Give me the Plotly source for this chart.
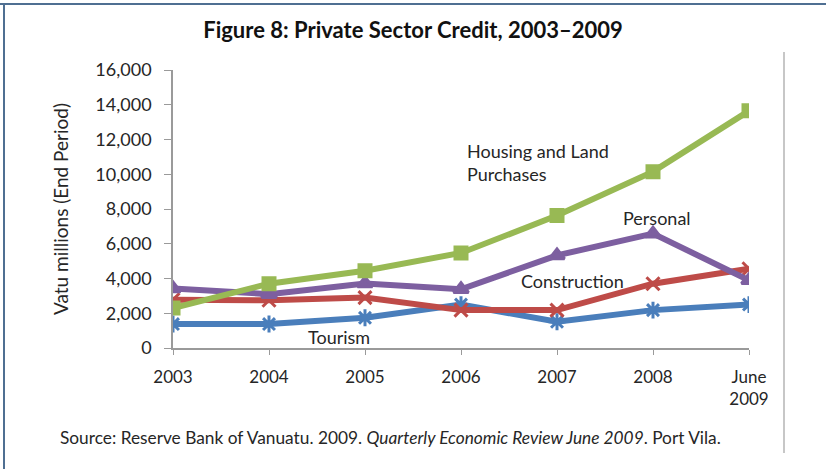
import plotly.graph_objects as go

categories = ["2003", "2004", "2005", "2006", "2007", "2008", "June<br>2009"]
housing = [2300, 3700, 4450, 5470, 7620, 10150, 13650]
personal = [3430, 3100, 3710, 3380, 5330, 6580, 3900]
construction = [2780, 2750, 2900, 2180, 2180, 3700, 4560]
tourism = [1380, 1380, 1740, 2500, 1510, 2180, 2500]

FONT = "Lato, 'Open Sans', sans-serif"
TXT = "#262626"

W, H = 826, 469
L, R, T, B = 173, 77, 70, 121

fig = go.Figure()
series = [
    ("Tourism", tourism, "#4A7EBB", "asterisk-open", 14),
    ("Construction", construction, "#BE4B48", "x-thin-open", 13),
    ("Personal", personal, "#7D5FA0", "triangle-up", 13),
    ("Housing and Land Purchases", housing, "#98B954", "square", 12),
]
for name, vals, col, sym, sz in series:
    fig.add_trace(go.Scatter(
        x=categories, y=vals, mode="lines+markers", name=name,
        line=dict(color=col, width=6),
        marker=dict(symbol=sym, size=sz, color=col, line=dict(color=col, width=3)),
    ))

fig.update_layout(
    width=W, height=H,
    paper_bgcolor="white", plot_bgcolor="white",
    margin=dict(l=L, r=R, t=T, b=B),
    showlegend=False,
    font=dict(family=FONT, color=TXT, size=17),
    title=dict(text="<b>Figure 8: Private Sector Credit, 2003–2009</b>",
               x=0.5, xref="container", xanchor="center", y=1 - 30 / H, yanchor="middle",
               font=dict(size=22, family=FONT, color="#111")),
)
fig.update_xaxes(
    type="category", range=[0, 6], showgrid=False, zeroline=False,
    showline=True, linecolor="#9a9a9a", linewidth=1.5,
    ticks="outside", ticklen=5, tickcolor="#9a9a9a",
    tickfont=dict(size=17, color=TXT), ticklabelstandoff=8,
)
fig.update_yaxes(
    range=[0, 16000], dtick=2000, tickformat=",d", showgrid=False, zeroline=False,
    showline=True, linecolor="#9a9a9a", linewidth=1.5,
    ticks="outside", ticklen=7, tickcolor="#9a9a9a",
    tickfont=dict(size=18, color=TXT), ticklabelstandoff=9,
    title=dict(text="Vatu millions (End Period)", font=dict(size=19, color=TXT), standoff=22),
)

labels = [
    ("Housing and Land<br>Purchases", 3.04, 10650, "left"),
    ("Personal", 5.04, 7455, "center"),
    ("Construction", 4.16, 3840, "center"),
    ("Tourism", 1.73, 630, "center"),
]
for t, xv, yv, al in labels:
    fig.add_annotation(x=xv, y=yv, xref="x", yref="y", text=t, showarrow=False,
                       xanchor=al, yanchor="middle", align="left",
                       font=dict(size=18, color=TXT))


def px(x):
    return (x - L) / (W - L - R)


def py(y):
    return (H - B - y) / (H - T - B)


fig.add_annotation(
    x=px(58), y=py(437), xref="paper", yref="paper", xanchor="left", yanchor="middle",
    text="Source: Reserve Bank of Vanuatu. 2009. <i>Quarterly Economic Review June 2009</i>. Port Vila.",
    showarrow=False, font=dict(size=17.3, color=TXT),
)

fig.add_shape(type="line", xref="paper", yref="paper", x0=px(0), x1=px(826), y0=py(4), y1=py(4),
              line=dict(color="#4F6F92", width=2))
fig.add_shape(type="line", xref="paper", yref="paper", x0=px(4), x1=px(4), y0=py(4), y1=py(469),
              line=dict(color="#4F6F92", width=2))
fig.add_shape(type="line", xref="paper", yref="paper", x0=px(784), x1=px(784), y0=py(52), y1=py(453),
              line=dict(color="#b5b5b5", width=1.5))

fig.write_html("out.html", config={"displayModeBar": False},
               post_script="document.body.style.margin='0';")
